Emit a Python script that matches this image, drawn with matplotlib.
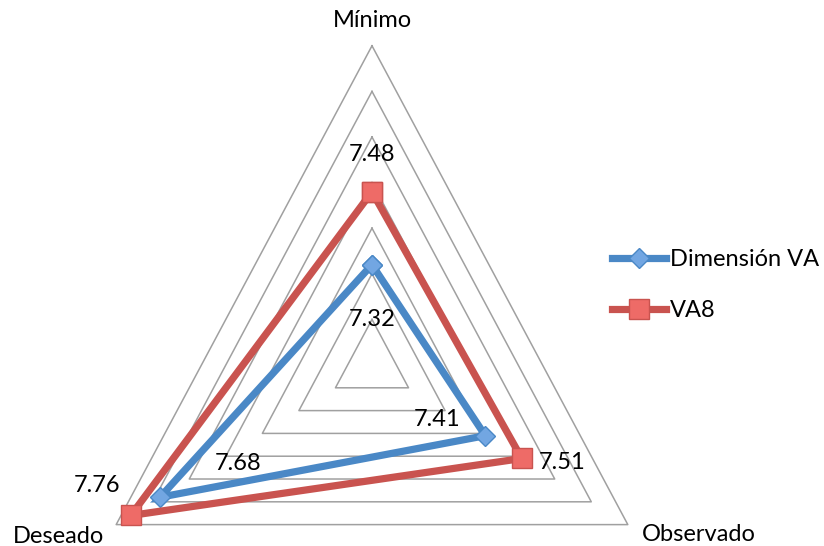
import matplotlib.pyplot as plt
import numpy as np

# categories clockwise from top
categories = ["Mínimo", "Observado", "Deseado"]
dimension_va = [7.32, 7.41, 7.68]
va8 = [7.48, 7.51, 7.76]
series_names = ["Dimensión VA", "VA8"]

r_min, r_max, r_step = 7.1, 7.8, 0.1

plt.rcParams["font.family"] = ["Lato", "DejaVu Sans"]
fs = 17

angles = np.radians([0, 120, 240])


def to_xy(vals):
    r = np.asarray(vals) - r_min
    return r * np.sin(angles), r * np.cos(angles)


fig = plt.figure(figsize=(8.24, 5.46), dpi=100)
ax = fig.add_axes([0, 0, 1, 1])
# horizontal scale a bit tighter than vertical, like the original
ax.set_xlim(-0.8815, 1.0711)
ax.set_ylim(-0.3969, 0.8004)
ax.axis("off")

# triangular grid
for lev in np.arange(r_min + r_step, r_max + 1e-9, r_step):
    gx, gy = to_xy([lev] * 3)
    ax.plot(np.append(gx, gx[0]), np.append(gy, gy[0]), color="#a0a0a0",
            lw=1.1, zorder=1)

# series
styles = [
    dict(color="#4a88c6", marker="D", ms=10.5, mfc="#72a6e2", mec="#4a88c6"),
    dict(color="#c9534f", marker="s", ms=15, mfc="#ee6b67", mec="#c9534f"),
]
handles = []
for vals, name, st in zip([dimension_va, va8], series_names, styles):
    x, y = to_xy(vals)
    ln, = ax.plot(np.append(x, x[0]), np.append(y, y[0]), lw=5.2, label=name,
                  solid_joinstyle="miter", zorder=3, **st)
    handles.append(ln)

# data labels (offsets in pixels from the points)
label_offsets = {
    0: [(0, -55), (-48, 16), (78, 34)],
    1: [(0, 37), (40, -4), (-34, 30)],
}
for i, vals in enumerate([dimension_va, va8]):
    x, y = to_xy(vals)
    for j, v in enumerate(vals):
        ax.annotate(f"{v:.2f}", (x[j], y[j]), xytext=label_offsets[i][j],
                    textcoords="offset pixels", ha="center", va="center",
                    fontsize=fs, zorder=5)

# category labels
cx, cy = to_xy([r_max] * 3)
ax.annotate(categories[0], (cx[0], cy[0]), xytext=(0, 25), textcoords="offset pixels",
            ha="center", va="center", fontsize=fs)
ax.annotate(categories[1], (cx[1], cy[1]), xytext=(71, -10), textcoords="offset pixels",
            ha="center", va="center", fontsize=fs)
ax.annotate(categories[2], (cx[2], cy[2]), xytext=(-58, -12), textcoords="offset pixels",
            ha="center", va="center", fontsize=fs)

ax.legend(handles=handles, loc="center left", bbox_to_anchor=(0.728, 0.478),
          frameon=False, fontsize=fs, handlelength=2.3, handletextpad=0.15,
          labelspacing=1.25, borderpad=0, borderaxespad=0.5)

fig.savefig("out.png", dpi=100)
